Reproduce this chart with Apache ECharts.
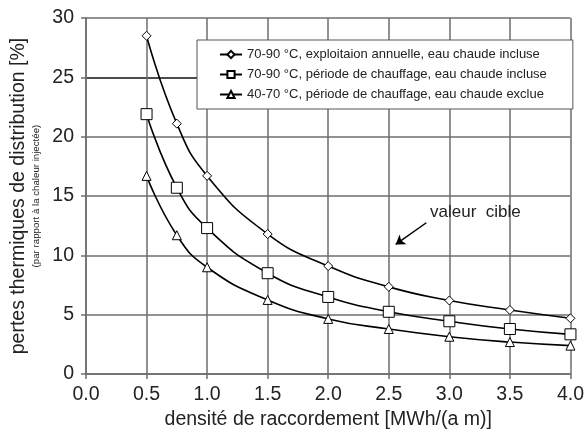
<!DOCTYPE html>
<html>
<head>
<meta charset="utf-8">
<script src="https://cdn.jsdelivr.net/npm/echarts@6/dist/echarts.min.js"></script>
<style>
  html,body{margin:0;padding:0;background:#fff;}
  #chart{width:587px;height:435px;}
</style>
</head>
<body>
<div id="chart"></div>
<script>
// densité de raccordement [MWh/(a m)]
const densite = [0.5, 0.75, 1.0, 1.5, 2.0, 2.5, 3.0, 3.5, 4.0];
// pertes thermiques [%]
const pertesAnnuelle = [28.5, 21.1, 16.7, 11.8, 9.1, 7.35, 6.2, 5.4, 4.7];
const pertesChauffageIncl = [21.9, 15.7, 12.3, 8.5, 6.5, 5.25, 4.45, 3.8, 3.35];
const pertesChauffageExcl = [16.7, 11.7, 9.0, 6.25, 4.65, 3.8, 3.15, 2.7, 2.4];

const seriesNames = [
  '70-90 °C, exploitaion annuelle, eau chaude incluse',
  '70-90 °C, période de chauffage, eau chaude incluse',
  '40-70 °C, période de chauffage, eau chaude exclue'
];
// annotation "valeur cible" (en unités des axes)
const cibleTexte = [3.215, 13.64];
const cibleFleche = [[2.81, 12.75], [2.557, 10.92]];

const FONT = 'Liberation Sans, Arial, sans-serif';
const GRID_COL = '#6e6e6e';
const BIG = 19.5;

const chart = echarts.init(document.getElementById('chart'));

const zip = (xs, ys) => xs.map((x, i) => [x, ys[i]]);

function mkSeries(name, data, symbol, size){
  return {
    type: 'line', name, data: zip(densite, data),
    smooth: 0.5,
    symbol, symbolSize: size, showAllSymbol: true,
    lineStyle: {color: '#000', width: 1.6},
    itemStyle: {color: '#fff', borderColor: '#000', borderWidth: 1},
    emphasis: {disabled: true}, z: 3
  };
}

const s1 = mkSeries(seriesNames[0], pertesAnnuelle, 'diamond', 9);
s1.markLine = {
  silent: true, symbol: ['none', 'arrow'], symbolSize: 9,
  lineStyle: {color: '#000', width: 1.5, type: 'solid'},
  label: {show: false},
  data: [[{coord: cibleFleche[0]}, {coord: cibleFleche[1]}]]
};
s1.markPoint = {
  silent: true, symbol: 'circle', symbolSize: 0,
  label: {show: true, formatter: 'valeur  cible', color: '#222', fontFamily: FONT, fontSize: 17, position: 'inside'},
  data: [{coord: cibleTexte}]
};

chart.setOption({
  animation: false,
  textStyle: {fontFamily: FONT},
  grid: {left: 86, right: 14, top: 18, bottom: 60},
  legend: {
    orient: 'vertical', left: 197, top: 40,
    backgroundColor: '#fff', borderColor: '#555', borderWidth: 1,
    padding: [8, 26, 8, 22], itemGap: 7, itemWidth: 22, itemHeight: 9,
    textStyle: {fontFamily: FONT, fontSize: 13, color: '#222'},
    data: seriesNames.map(n => ({name: n, itemStyle: {color: '#fff', borderColor: '#000'}}))
  },
  xAxis: {
    type: 'value', min: 0, max: 4, interval: 0.5,
    name: 'densité de raccordement [MWh/(a m)]', nameLocation: 'middle', nameGap: 33,
    nameTextStyle: {fontFamily: FONT, fontSize: BIG, color: '#222'},
    axisLine: {lineStyle: {color: GRID_COL, width: 1.5}},
    axisTick: {show: true, length: 5, lineStyle: {color: GRID_COL, width: 1.5}},
    axisLabel: {fontSize: BIG, color: '#222', margin: 11, formatter: v => v.toFixed(1)},
    splitLine: {show: true, lineStyle: {color: GRID_COL, width: 1.5}}
  },
  yAxis: {
    type: 'value', min: 0, max: 30, interval: 5,
    name: '{a|pertes thermiques de distribution [%]}\n{b|(par rapport à la chaleur injectée)}',
    nameLocation: 'middle', nameGap: 44,
    nameTextStyle: {
      color: '#222', fontFamily: FONT,
      rich: {
        a: {fontSize: BIG, fontFamily: FONT, color: '#222', lineHeight: 22},
        b: {fontSize: 9.7, fontFamily: FONT, color: '#222', lineHeight: 12}
      }
    },
    axisLine: {show: true, lineStyle: {color: GRID_COL, width: 1.5}},
    axisTick: {show: true, length: 5, lineStyle: {color: GRID_COL, width: 1.5}},
    axisLabel: {fontSize: BIG, color: '#222', margin: 12},
    splitLine: {show: true, lineStyle: {color: [GRID_COL, GRID_COL, GRID_COL, GRID_COL, GRID_COL, '#111', GRID_COL], width: 1.5}}
  },
  series: [
    s1,
    mkSeries(seriesNames[1], pertesChauffageIncl, 'rect', 11),
    mkSeries(seriesNames[2], pertesChauffageExcl, 'triangle', 9)
  ]
});
</script>
</body>
</html>
